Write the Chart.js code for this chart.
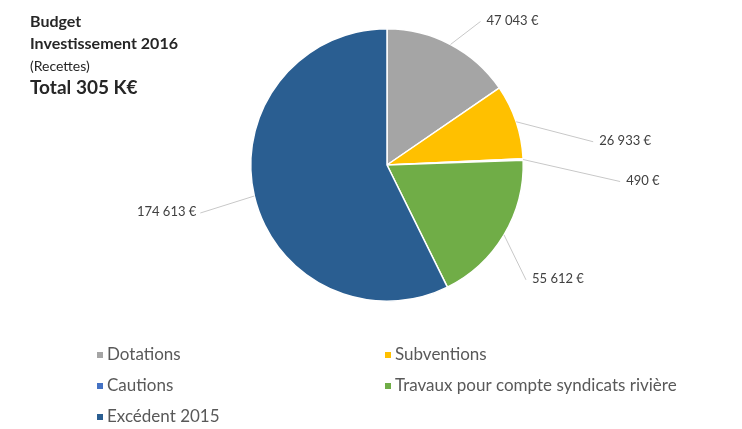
<!DOCTYPE html>
<html>
<head>
<meta charset="utf-8">
<script src="https://cdn.jsdelivr.net/npm/chart.js@4"></script>
<style>
  html, body { margin: 0; padding: 0; background: #fff; }
  #wrap { width: 742px; height: 429px; }
</style>
</head>
<body>
<div id="wrap"><canvas id="myPieChart" width="742" height="429"></canvas></div>
<script>
// chart data
let categories = [
    'Dotations',
    'Subventions',
    'Cautions',
    'Travaux pour compte syndicats rivière',
    'Excédent 2015'
];
let values = [47043, 26933, 490, 55612, 174613];
let colors = ['#A5A5A5', '#FFC000', '#4472C4', '#70AD47', '#2A5E91'];
let titleLines = ['Budget', 'Investissement 2016', '(Recettes)', 'Total 305 K€'];

// where each value label sits, relative to its point on the pie edge
let labelOffsets = [
    { dx: 30, dy: -23, align: 'left' },
    { dx: 77, dy: 20, align: 'left' },
    { dx: 97, dy: 22, align: 'left' },
    { dx: 22, dy: 45, align: 'left' },
    { dx: -54, dy: 17, align: 'right' }
];

function euro(v) {
    return String(v).replace(/\B(?=(\d{3})+(?!\d))/g, ' ') + ' €';
}

const FONT = 'Lato, "Open Sans", sans-serif';

// draws title, leader lines + value labels, and the two column legend
const extras = {
    id: 'extras',
    afterDraw(chart) {
        const ctx = chart.ctx;
        ctx.save();

        // title block
        ctx.fillStyle = '#262626';
        ctx.textAlign = 'left';
        ctx.textBaseline = 'middle';
        ctx.font = 'bold 16px ' + FONT;
        ctx.fillText(titleLines[0], 30, 22);
        ctx.fillText(titleLines[1], 30, 44);
        ctx.font = '14px ' + FONT;
        ctx.fillText(titleLines[2], 30, 66);
        ctx.font = 'bold 19px ' + FONT;
        ctx.fillText(titleLines[3], 30, 88);

        // value labels
        const arcs = chart.getDatasetMeta(0).data;
        ctx.font = '13px ' + FONT;
        arcs.forEach((arc, i) => {
            const mid = (arc.startAngle + arc.endAngle) / 2;
            const ax = arc.x + arc.outerRadius * Math.cos(mid);
            const ay = arc.y + arc.outerRadius * Math.sin(mid);
            const o = labelOffsets[i];
            const ex = ax + o.dx, ey = ay + o.dy;
            ctx.strokeStyle = '#C8C8C8';
            ctx.lineWidth = 1;
            ctx.beginPath();
            ctx.moveTo(ax, ay);
            ctx.lineTo(ex, ey);
            ctx.stroke();
            ctx.fillStyle = '#404040';
            ctx.textAlign = o.align;
            const tx = o.align === 'left' ? ex + 6 : ex - 4;
            ctx.fillText(euro(values[i]), tx, ey - 1);
        });

        // legend, two columns
        ctx.font = '17px ' + FONT;
        ctx.textAlign = 'left';
        const colX = [97, 385];
        const rowY = [355, 386, 417];
        categories.forEach((c, i) => {
            const x = colX[i % 2];
            const y = rowY[Math.floor(i / 2)];
            ctx.fillStyle = colors[i];
            ctx.fillRect(x, y - 3, 6, 6);
            ctx.fillStyle = '#595959';
            ctx.fillText(c, x + 10, y);
        });

        ctx.restore();
    }
};

let myChart1 = document.getElementById('myPieChart').getContext('2d');
let chart1 = new Chart(myChart1, {
    type: 'pie',
    data: {
        labels: categories,
        datasets: [{
            data: values,
            backgroundColor: colors,
            borderColor: '#ffffff',
            borderWidth: 1.5
        }]
    },
    options: {
        responsive: false,
        animation: false,
        layout: {
            padding: { left: 250, right: 218, top: 28, bottom: 127 }
        },
        plugins: {
            legend: { display: false },
            tooltip: { enabled: false }
        }
    },
    plugins: [extras]
});
</script>
</body>
</html>
